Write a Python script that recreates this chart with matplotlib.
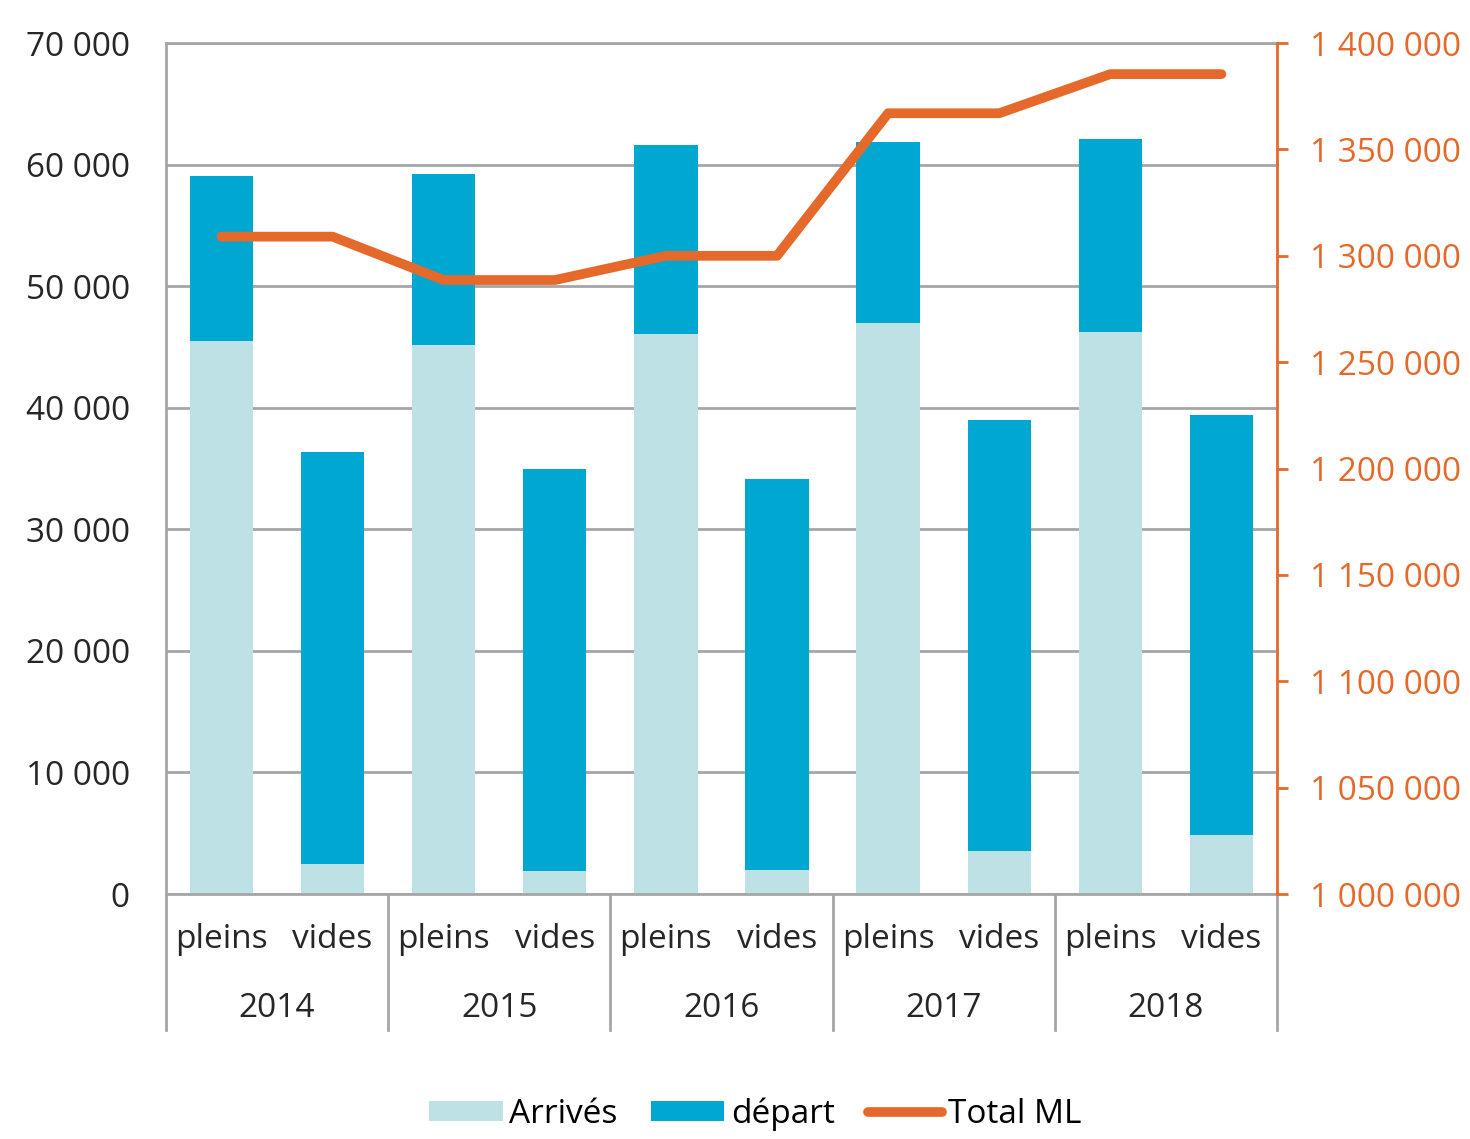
import matplotlib.pyplot as plt
import matplotlib.transforms as mtransforms
import numpy as np

plt.rcParams['font.family'] = ['Open Sans', 'DejaVu Sans']

years = ['2014', '2015', '2016', '2017', '2018']
kinds = ['pleins', 'vides']
arrives = [45500, 2500, 45200, 1900, 46100, 2000, 47000, 3500, 46200, 4850]
depart = [13600, 33900, 14000, 33100, 15500, 32100, 14900, 35500, 15900, 34550]
total_ml = [1309000, 1288600, 1300000, 1367000, 1385400]

c_arr = '#bde1e5'
c_dep = '#00a8d1'
c_line = '#e5692a'
c_grid = '#a6a6a6'
c_txt = '#262626'
fs = 24

def fmt(v, pos=None):
    return f"{v:,.0f}".replace(",", " ")

fig = plt.figure(figsize=(14.7, 11.39), dpi=100)
ax = fig.add_axes([0.1129, 0.2151, 0.7558, 0.7471])
x = np.arange(len(arrives))

b1 = ax.bar(x, arrives, width=0.57, color=c_arr, zorder=2, label='Arrivés')
b2 = ax.bar(x, depart, width=0.57, bottom=arrives, color=c_dep, zorder=2, label='départ')
ax.set_xlim(-0.5, len(x) - 0.5)
ax.set_ylim(0, 70000)
ax.set_yticks(np.arange(0, 70001, 10000))
ax.yaxis.set_major_formatter(plt.FuncFormatter(fmt))
ax.tick_params(axis='y', length=0, labelsize=fs, pad=26, labelcolor=c_txt)
ax.set_xticks([])
ax.grid(axis='y', color=c_grid, linewidth=2, zorder=1)
for s in ['left', 'top', 'bottom']:
    ax.spines[s].set_color(c_grid)
    ax.spines[s].set_linewidth(2)
ax.spines['right'].set_visible(False)

# total line, repeated over both bars of each year
ax2 = ax.twinx()
line_y = np.repeat(total_ml, 2)
ln, = ax2.plot(x, line_y, color=c_line, linewidth=7, solid_capstyle='round',
               solid_joinstyle='round', zorder=3, label='Total ML')
ax2.set_ylim(1000000, 1400000)
ax2.set_yticks(np.arange(1000000, 1400001, 50000))
ax2.yaxis.set_major_formatter(plt.FuncFormatter(fmt))
ax2.tick_params(axis='y', colors=c_line, labelsize=fs, length=8, width=2, pad=16)
for s in ['left', 'top', 'bottom']:
    ax2.spines[s].set_visible(False)
ax2.spines['right'].set_color(c_line)
ax2.spines['right'].set_linewidth(2)

# two-level category axis
trans = mtransforms.blended_transform_factory(ax.transData, ax.transAxes)
for i in x:
    ax.text(i, -0.054, kinds[i % 2], transform=trans, ha='center', va='center',
            fontsize=fs, color=c_txt)
for j, yr in enumerate(years):
    ax.text(2 * j + 0.5, -0.134, yr, transform=trans, ha='center', va='center',
            fontsize=fs, color=c_txt)
for k in range(len(years) + 1):
    ax.plot([2 * k - 0.5, 2 * k - 0.5], [0, -0.16], transform=trans, color=c_grid,
            linewidth=2, clip_on=False)

fig.legend(handles=[b1, b2, ln], loc='center', bbox_to_anchor=(0.514, 0.022), ncol=3,
           frameon=False, fontsize=fs, handlelength=2.2, handleheight=0.55,
           handletextpad=0.2, columnspacing=1.0, borderpad=0.1)

fig.savefig('out.png', dpi=100)
